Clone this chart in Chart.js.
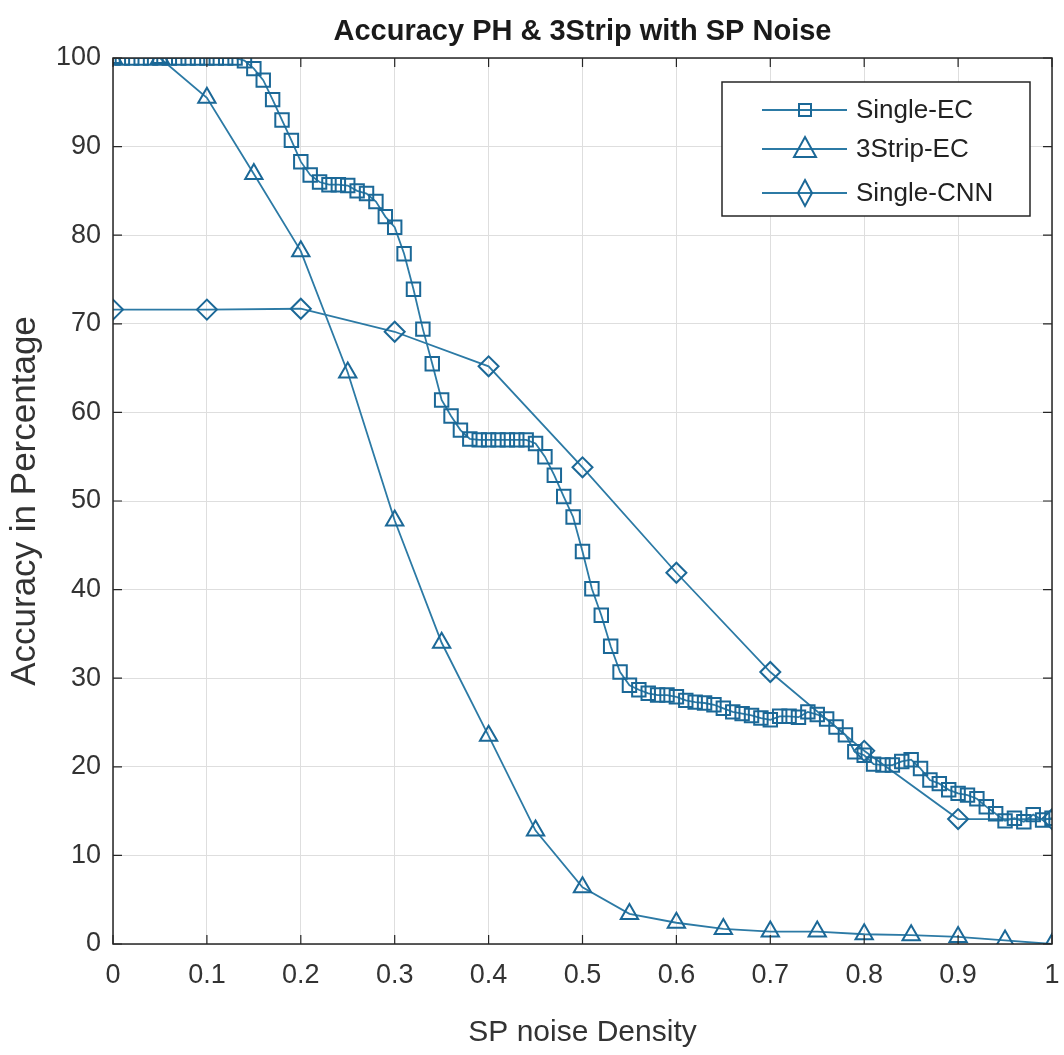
<!DOCTYPE html>
<html>
<head>
<meta charset="utf-8">
<script src="https://cdn.jsdelivr.net/npm/chart.js@4.4.1/dist/chart.umd.min.js"></script>
<style>
html,body{margin:0;padding:0;background:#fff;}
#wrap{width:1064px;height:1055px;position:relative;}
</style>
</head>
<body>
<div id="wrap"><canvas id="c" width="1064" height="1055"></canvas></div>
<script>
const chartTitle = 'Accuracy PH & 3Strip with SP Noise';
const xTitle = 'SP noise Density';
const yTitle = 'Accuracy in Percentage';
const seriesNames = ['Single-EC', '3Strip-EC', 'Single-CNN'];
const xTickLabels = ['0','0.1','0.2','0.3','0.4','0.5','0.6','0.7','0.8','0.9','1'];
const yTickLabels = ['0','10','20','30','40','50','60','70','80','90','100'];

const singleEC_x = [0,0.01,0.02,0.03,0.04,0.05,0.06,0.07,0.08,0.09,
  0.10,0.11,0.12,0.13,0.14,0.15,0.16,0.17,0.18,0.19,
  0.20,0.21,0.22,0.23,0.24,0.25,0.26,0.27,0.28,0.29,
  0.30,0.31,0.32,0.33,0.34,0.35,0.36,0.37,0.38,0.39,
  0.40,0.41,0.42,0.43,0.44,0.45,0.46,0.47,0.48,0.49,
  0.50,0.51,0.52,0.53,0.54,0.55,0.56,0.57,0.58,0.59,
  0.60,0.61,0.62,0.63,0.64,0.65,0.66,0.67,0.68,0.69,
  0.70,0.71,0.72,0.73,0.74,0.75,0.76,0.77,0.78,0.79,
  0.80,0.81,0.82,0.83,0.84,0.85,0.86,0.87,0.88,0.89,
  0.90,0.91,0.92,0.93,0.94,0.95,0.96,0.97,0.98,0.99,1.00];
const singleEC_y = [100,100,100,100,100,100,100,100,100,100,
  100,100,100,100,99.7,98.8,97.5,95.3,93.0,90.7,
  88.3,86.8,86.0,85.7,85.7,85.6,85.0,84.7,83.8,82.1,
  80.9,77.9,73.9,69.4,65.5,61.4,59.6,58.0,57.0,56.9,
  56.9,56.9,56.9,56.9,56.9,56.5,55.0,52.9,50.5,48.2,
  44.3,40.1,37.1,33.6,30.7,29.2,28.7,28.3,28.1,28.1,
  27.9,27.5,27.3,27.2,27.0,26.6,26.2,26.0,25.8,25.5,
  25.3,25.7,25.7,25.6,26.2,25.9,25.4,24.5,23.6,21.7,
  21.3,20.3,20.2,20.2,20.6,20.8,19.8,18.5,18.1,17.4,
  17.0,16.8,16.4,15.5,14.7,13.9,14.2,13.8,14.6,14.0,14.2];

const strip_x = [0,0.05,0.1,0.15,0.2,0.25,0.3,0.35,0.4,0.45,0.5,0.55,0.6,0.65,0.7,0.75,0.8,0.85,0.9,0.95,1.0];
const strip_y = [100,100,95.5,86.9,78.2,64.5,47.8,34.0,23.5,12.8,6.4,3.4,2.4,1.7,1.4,1.4,1.1,1.0,0.8,0.4,0.0];

const cnn_x = [0,0.1,0.2,0.3,0.4,0.5,0.6,0.7,0.8,0.9,1.0];
const cnn_y = [71.6,71.6,71.7,69.1,65.2,53.8,41.9,30.7,21.8,14.1,14.1];

const lineColor = '#2c7aa5';
const markColor = '#1b6897';
const axisColor = '#262626';
const FONT = "'Liberation Sans',Arial,sans-serif";

function pts(xs, ys){ return xs.map((x,i)=>({x:x,y:ys[i]})); }

const L = {left:113, right:1058, top:58, bottom:944};

const frame = {
  id:'frame',
  afterDatasetsDraw(chart){
    const ctx = chart.ctx, a = chart.chartArea;
    const xs = chart.scales.x, ys = chart.scales.y;
    ctx.save();
    ctx.strokeStyle = axisColor; ctx.lineWidth = 1.5;
    ctx.strokeRect(a.left, a.top, a.right-a.left, a.bottom-a.top);
    ctx.lineWidth = 1.2;
    xs.ticks.forEach(t=>{
      const px = xs.getPixelForValue(t.value);
      ctx.beginPath(); ctx.moveTo(px,a.bottom); ctx.lineTo(px,a.bottom-9);
      ctx.moveTo(px,a.top); ctx.lineTo(px,a.top+9); ctx.stroke();
    });
    ys.ticks.forEach(t=>{
      const py = ys.getPixelForValue(t.value);
      ctx.beginPath(); ctx.moveTo(a.left,py); ctx.lineTo(a.left+9,py);
      ctx.moveTo(a.right,py); ctx.lineTo(a.right-9,py); ctx.stroke();
    });
    ctx.restore();
  },
  afterDraw(chart){
    const ctx = chart.ctx;
    const bx = 722, by = 82, bw = 308, bh = 134;
    ctx.save();
    ctx.fillStyle = '#fff';
    ctx.fillRect(bx, by, bw, bh);
    ctx.strokeStyle = axisColor; ctx.lineWidth = 1.5;
    ctx.strokeRect(bx, by, bw, bh);
    const rows = [110, 149, 193];
    const styles = ['rect','triangle','diamond'];
    chart.data.datasets.forEach((ds,i)=>{
      const y = rows[i];
      ctx.strokeStyle = lineColor; ctx.lineWidth = 1.8;
      ctx.beginPath(); ctx.moveTo(762,y); ctx.lineTo(847,y); ctx.stroke();
      ctx.strokeStyle = markColor; ctx.lineWidth = 2;
      ctx.beginPath();
      const cx = 805;
      if (styles[i]==='rect'){ ctx.rect(cx-6,y-6,12,12); }
      else if (styles[i]==='triangle'){ ctx.moveTo(cx,y-12); ctx.lineTo(cx+11,y+8); ctx.lineTo(cx-11,y+8); ctx.closePath(); }
      else { ctx.moveTo(cx,y-13); ctx.lineTo(cx+7,y); ctx.lineTo(cx,y+13); ctx.lineTo(cx-7,y); ctx.closePath(); }
      ctx.stroke();
      ctx.fillStyle = '#222';
      ctx.font = "26px " + FONT;
      ctx.textBaseline = 'middle';
      ctx.textAlign = 'left';
      ctx.fillText(ds.label, 856, y+1);
    });
    ctx.restore();
  }
};

const common = {showLine:true, fill:false, borderColor:lineColor, borderWidth:1.8,
  pointBorderColor:markColor, pointBackgroundColor:'rgba(0,0,0,0)', pointBorderWidth:2, tension:0};

new Chart(document.getElementById('c'), {
  type:'scatter',
  data:{datasets:[
    Object.assign({label:seriesNames[0], data:pts(singleEC_x,singleEC_y), pointStyle:'rect', pointRadius:9.5}, common),
    Object.assign({label:seriesNames[1], data:pts(strip_x,strip_y), pointStyle:'triangle', pointRadius:10}, common),
    Object.assign({label:seriesNames[2], data:pts(cnn_x,cnn_y), pointStyle:'rectRot', pointRadius:10}, common)
  ]},
  options:{
    responsive:false, animation:false, devicePixelRatio:1,
    layout:{padding:{left:0,right:6,top:0,bottom:0}},
    plugins:{
      legend:{display:false},
      tooltip:{enabled:false},
      title:{display:true, text:chartTitle, fullSize:false, color:'#1a1a1a',
        font:{family:FONT, size:29, weight:'bold', lineHeight:1.2},
        padding:{top:15, bottom:8.2}}
    },
    scales:{
      x:{type:'linear', min:0, max:1,
        afterFit(s){ s.height = 1055 - L.bottom; s.paddingLeft = 0; s.paddingRight = 0; },
        afterBuildTicks(s){ s.ticks = xTickLabels.map(v=>({value:parseFloat(v)})); },
        ticks:{color:'#333', font:{family:FONT, size:27}, padding:15, maxRotation:0,
          callback:(v,i)=>xTickLabels[i]},
        grid:{color:'#dedede', lineWidth:1, drawTicks:false},
        border:{display:false},
        title:{display:true, text:xTitle, color:'#333', font:{family:FONT, size:30}, padding:{top:12}}
      },
      y:{type:'linear', min:0, max:100,
        afterFit(s){ s.width = L.left; },
        afterBuildTicks(s){ s.ticks = yTickLabels.map(v=>({value:parseFloat(v)})); },
        ticks:{color:'#333', font:{family:FONT, size:27}, padding:12,
          callback:(v,i)=>yTickLabels[i]},
        grid:{color:'#dedede', lineWidth:1, drawTicks:false},
        border:{display:false},
        title:{display:true, text:yTitle, color:'#333', font:{family:FONT, size:35}, padding:{bottom:4}}
      }
    }
  },
  plugins:[frame]
});
</script>
</body>
</html>
